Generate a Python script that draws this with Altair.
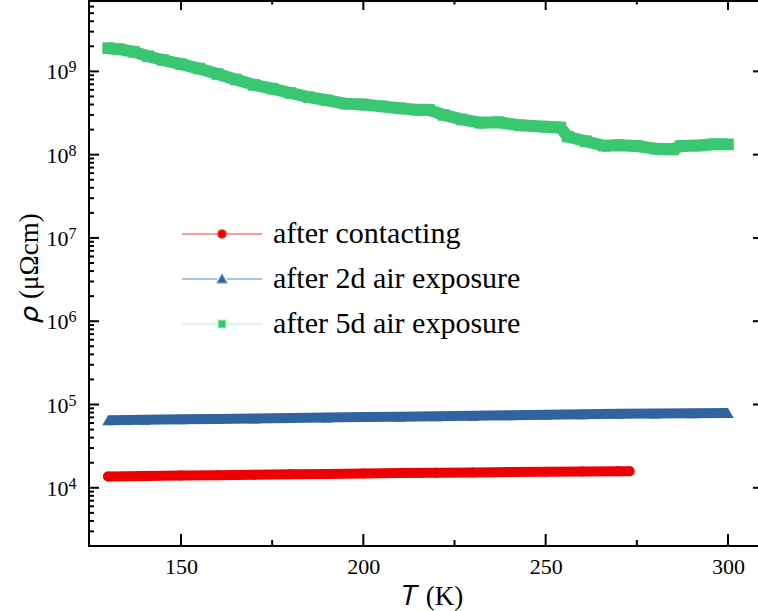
import altair as alt
import pandas as pd

# ---------------- data ----------------
T_contact = [130, 140, 150, 160, 170, 180, 190, 200, 210, 220, 230, 240, 250, 260, 270, 273]
rho_contact = [13700, 13850, 14000, 14150, 14300, 14500, 14650, 14850, 15000, 15150,
               15300, 15450, 15600, 15700, 15750, 15800]

T_2d = [130, 140, 150, 160, 170, 180, 190, 200, 210, 220, 230, 240, 250, 260, 270, 280, 290, 300]
rho_2d = [64500, 65400, 66300, 67200, 68000, 68900, 69800, 70600, 71500, 72500, 73400,
          74400, 75400, 76400, 77200, 78000, 78700, 79300]

T_5d = [130, 133, 137, 141, 145, 150, 155, 160, 165, 170, 175, 180, 185, 190, 195, 200,
        205, 210, 215, 218, 222, 227, 232, 237, 243, 250, 254, 256, 261, 266, 270, 275,
        280, 285, 287, 292, 296, 300]
rho_5d = [1.90e9, 1.85e9, 1.72e9, 1.52e9, 1.37e9, 1.22e9, 1.08e9, 9.3e8, 8.0e8, 6.9e8,
          6.2e8, 5.5e8, 4.9e8, 4.5e8, 4.1e8, 4.0e8, 3.8e8, 3.6e8, 3.45e8, 3.45e8,
          3.0e8, 2.65e8, 2.42e8, 2.45e8, 2.25e8, 2.17e8, 2.12e8, 1.65e8, 1.45e8, 1.28e8,
          1.30e8, 1.27e8, 1.18e8, 1.16e8, 1.27e8, 1.29e8, 1.33e8, 1.33e8]

series_labels = ["after contacting", "after 2d air exposure", "after 5d air exposure"]
marker_colors = ["#EE0000", "#31649E", "#3AC772"]
line_colors = ["#F03A3A", "#5E88BA", "#BFEBCD"]

x_major = [150, 200, 250, 300]
x_minor = [175, 225, 275]
y_major = [1e4, 1e5, 1e6, 1e7, 1e8, 1e9]
y_exponents = ["4", "5", "6", "7", "8", "9"]
y_minor = [k * 10.0 ** n for n in range(3, 10) for k in range(2, 10)
           if 2000 <= k * 10.0 ** n <= 7e9]

# ---------------- layout / style ----------------
W, H = 669, 545
FONT = "Liberation Serif"
xs = alt.Scale(domain=[124.77, 308.23], nice=False, zero=False)
ys = alt.Scale(type="log", domain=[2000, 7e9], nice=False)

XAXIS = alt.Axis(title="𝑇 (K)", values=x_major, format="d", ticks=False, tickSize=0,
                 domain=False, grid=False, labelFont=FONT, labelFontSize=22,
                 labelColor="black", labelPadding=10, labelFlush=False,
                 titleFont=FONT, titleFontSize=27, titleFontWeight="normal",
                 titleColor="black", titleX=343, titleY=58,
                 titleBaseline="alphabetic", titleAlign="center")
YAXIS = alt.Axis(title="𝜌 (μΩcm)", labels=False, ticks=False, tickSize=0, domain=False,
                 grid=False, titleFont=FONT, titleFontSize=27, titleFontWeight="normal",
                 titleColor="black", titleX=-59.5, titleY=266, titleAngle=270,
                 titleAlign="center", titleBaseline="middle")


def xenc(f):
    return alt.X(f, type="quantitative", scale=xs, axis=XAXIS)


def yenc(f):
    return alt.Y(f, type="quantitative", scale=ys, axis=YAXIS)


layers = []

# ---- data series ----
series = [
    (T_contact, rho_contact, "circle", 100, 10, "round"),
    (T_2d, rho_2d, "triangle-up", 133, 10, "butt"),
    (T_5d, rho_5d, "square", 135, 12, "butt"),
]
for i, (tt, rr, shp, sz, lw, cap) in enumerate(series):
    df = pd.DataFrame({"T": tt, "rho": rr})
    layers.append(alt.Chart(df).mark_line(color=marker_colors[i], strokeWidth=lw,
                                          strokeCap=cap, strokeJoin="round")
                  .encode(x=xenc("T"), y=yenc("rho")))
    layers.append(alt.Chart(df).mark_point(shape=shp, filled=True, size=sz, opacity=1,
                                           color=marker_colors[i])
                  .encode(x=xenc("T"), y=yenc("rho")))

# ---- frame (top, left, bottom) ----
one = pd.DataFrame({"k": [0]})
frame_kw = dict(color="black", strokeWidth=2, strokeCap="square")
layers.append(alt.Chart(one).mark_rule(**frame_kw).encode(
    x=alt.value(0), x2=alt.value(W), y=alt.value(0)))
layers.append(alt.Chart(one).mark_rule(**frame_kw).encode(
    x=alt.value(0), y=alt.value(0), y2=alt.value(H)))
layers.append(alt.Chart(one).mark_rule(**frame_kw).encode(
    x=alt.value(0), x2=alt.value(W), y=alt.value(H)))

# ---- inward ticks ----
ymaj = pd.DataFrame({"v": y_major, "e": y_exponents})
ymin = pd.DataFrame({"v": y_minor})
xmaj = pd.DataFrame({"v": x_major})
xmin = pd.DataFrame({"v": x_minor})
tk = dict(color="black", strokeWidth=2)
layers += [
    alt.Chart(ymaj).mark_rule(**tk).encode(y=yenc("v"), x=alt.value(0), x2=alt.value(10)),
    alt.Chart(ymin).mark_rule(**tk).encode(y=yenc("v"), x=alt.value(0), x2=alt.value(5)),
    alt.Chart(ymaj).mark_rule(**tk).encode(y=yenc("v"), x=alt.value(W - 5), x2=alt.value(W)),
    alt.Chart(xmaj).mark_rule(**tk).encode(x=xenc("v"), y=alt.value(H), y2=alt.value(H - 12)),
    alt.Chart(xmin).mark_rule(**tk).encode(x=xenc("v"), y=alt.value(H), y2=alt.value(H - 6)),
    alt.Chart(xmaj).mark_rule(**tk).encode(x=xenc("v"), y=alt.value(0), y2=alt.value(9)),
    alt.Chart(xmin).mark_rule(**tk).encode(x=xenc("v"), y=alt.value(0), y2=alt.value(3.5)),
]

# ---- y tick labels 10^n ----
layers.append(alt.Chart(ymaj).mark_text(text="10", align="right", baseline="alphabetic",
                                        dy=8, font=FONT, fontSize=22, color="black")
              .encode(y=yenc("v"), x=alt.value(-20.5)))
layers.append(alt.Chart(ymaj).mark_text(align="left", baseline="alphabetic", dy=1,
                                        font=FONT, fontSize=16, color="black")
              .encode(y=yenc("v"), x=alt.value(-20.5), text="e:N"))

# ---- legend (line + marker symbols) ----
legend_paths = [
    "M-4,0L-0.42,0M0.42,0L4,0M-0.42,0A0.42,0.42,0,1,0,0.42,0A0.42,0.42,0,1,0,-0.42,0Z",
    "M-4,0L-0.47,0M0.47,0L4,0M0,-0.45L0.47,0.38L-0.47,0.38Z",
    "M-4,0L-0.4,0M0.4,0L4,0M-0.4,-0.4L0.4,-0.4L0.4,0.4L-0.4,0.4Z",
]
LEG = alt.Legend(title=None, orient="none", legendX=118, legendY=218, padding=0,
                 symbolSize=400, symbolStrokeWidth=1.2, symbolOpacity=1,
                 labelFont=FONT, labelFontSize=30, labelColor="black", labelLimit=500,
                 labelOffset=36, rowPadding=15)
leg_df = pd.DataFrame({"series": series_labels})
layers.append(alt.Chart(leg_df).transform_filter("false")
              .mark_point(filled=True, size=400, opacity=1, strokeWidth=1.2)
              .encode(shape=alt.Shape("series:N", scale=alt.Scale(domain=series_labels,
                                                                  range=legend_paths),
                                      legend=LEG),
                      fill=alt.Fill("series:N", scale=alt.Scale(domain=series_labels,
                                                                range=marker_colors),
                                    legend=LEG),
                      stroke=alt.Stroke("series:N", scale=alt.Scale(domain=series_labels,
                                                                    range=line_colors),
                                        legend=LEG)))

chart = (alt.layer(*layers)
         .properties(width=W, height=H,
                     padding={"left": 89, "top": 1, "right": 0, "bottom": 65},
                     autosize=alt.AutoSizeParams(type="none"))
         .configure_view(stroke=None)
         .configure(background="white"))

chart.save("out.html", embed_options={"renderer": "svg", "actions": False})
